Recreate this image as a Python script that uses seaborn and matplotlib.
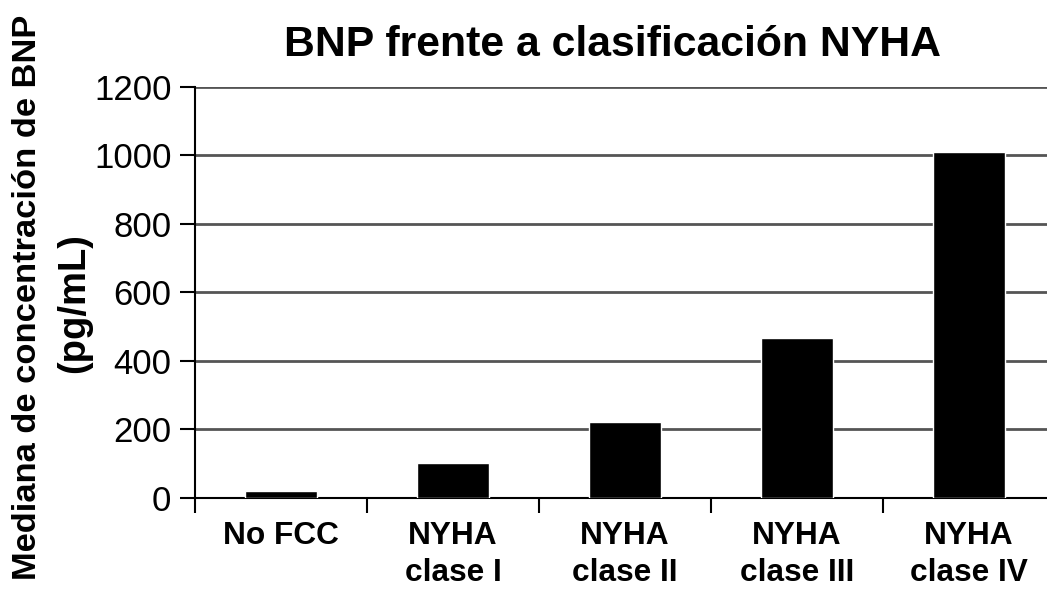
import matplotlib
matplotlib.use("Agg")
import matplotlib.pyplot as plt
import seaborn as sns
import pandas as pd

# Median BNP concentration by NYHA functional class
categories = ["No FCC", "NYHA\nclase I", "NYHA\nclase II", "NYHA\nclase III", "NYHA\nclase IV"]
bnp_median = [20, 100, 222, 465, 1010]
y_ticks = [0, 200, 400, 600, 800, 1000, 1200]

sns.set_theme(style="white")
plt.rcParams["font.family"] = ["Liberation Sans", "DejaVu Sans"]
plt.rcParams["text.color"] = "black"
plt.rcParams["xtick.color"] = "black"
plt.rcParams["ytick.color"] = "black"

df = pd.DataFrame({"grupo": categories, "bnp": bnp_median})

W, H = 1047, 593
fig = plt.figure(figsize=(W / 100, H / 100), dpi=100)
left, right = 195 / W, 1055 / W
bottom, top = (H - 497.7) / H, (H - 86.7) / H
ax = fig.add_axes([left, bottom, right - left, top - bottom])

sns.barplot(data=df, x="grupo", y="bnp", color="black", width=0.42,
            saturation=1, ax=ax, zorder=3)

ax.set_ylim(0, 1200)
ax.set_xlim(-0.5, len(categories) - 0.5)
ax.set_yticks(y_ticks)
ax.set_yticklabels([str(v) for v in y_ticks], fontsize=25, color="black")
ax.yaxis.grid(True, color="#555555", linewidth=2, zorder=0)
ax.xaxis.grid(False)

# category labels centred under bars, tick marks between categories
ax.set_xticks(range(len(categories)))
ax.set_xticklabels(categories, fontsize=22.8, fontweight="bold", linespacing=1.28,
                   color="black")
ax.tick_params(axis="x", which="major", length=0, pad=17)
ax.set_xticks([i - 0.5 for i in range(len(categories) + 1)], minor=True)
ax.tick_params(axis="x", which="minor", length=11, width=1.5, color="black",
               direction="out", bottom=True)
ax.tick_params(axis="y", length=11, width=1.5, color="black", direction="out",
               left=True, pad=6)

for s in ["top", "right"]:
    ax.spines[s].set_visible(False)
for s in ["left", "bottom"]:
    ax.spines[s].set_color("black")
    ax.spines[s].set_linewidth(1.5)

ax.set_xlabel("")
ax.set_ylabel("")

fig.text(612 / W, 1 - 45 / H, "BNP frente a clasificación NYHA", fontsize=30.8,
         fontweight="bold", ha="center", va="center", color="black")
fig.text(28 / W, 1 - 297 / H, "Mediana de concentración de BNP", fontsize=24.8,
         fontweight="bold", rotation=90, ha="center", va="center", color="black")
fig.text(74 / W, 1 - 303 / H, "(pg/mL)", fontsize=27.5,
         fontweight="bold", rotation=90, ha="center", va="center", color="black")

fig.savefig("out.png", dpi=100)
